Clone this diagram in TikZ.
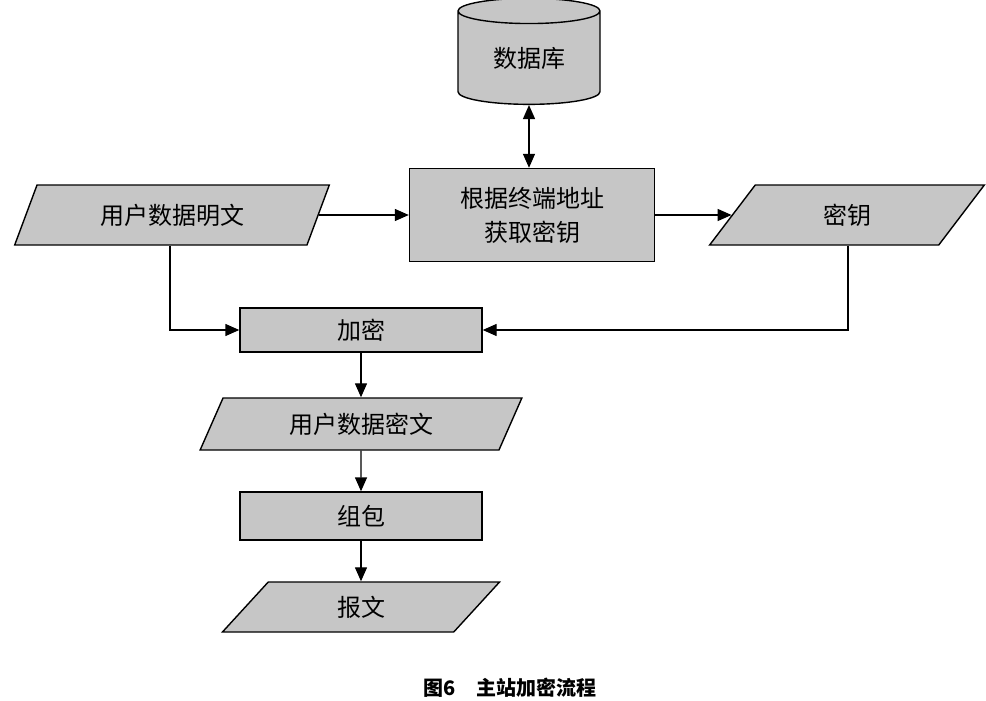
\documentclass[tikz,border=0pt]{standalone}
\usepackage{fontspec}
\setmainfont{Noto Sans CJK SC}
\usetikzlibrary{shapes.geometric,arrows.meta}

\tikzset{every picture/.style={line width=1.4pt}}
\tikzset{
  box/.style={draw, fill=gray!45, minimum height=#1, inner sep=0pt, align=center},
  data/.style={draw, fill=gray!45, trapezium, trapezium left angle=62, trapezium right angle=118,
    trapezium stretches=true, minimum height=60pt, inner sep=0pt},
  flow/.style={-{Triangle[length=14pt,width=12pt]}},
  txt/.style={font=\fontsize{24}{34}\selectfont}
}

\begin{document}
\begin{tikzpicture}[x=1pt,y=1pt,yscale=-1]
\useasboundingbox (0,0) rectangle (986,701);

% shapes
\node (db) [draw, fill=gray!45, cylinder, shape border rotate=90, aspect=0.35,
  minimum width=142pt, minimum height=106pt, inner sep=0pt, txt] at (529,58) {数据库};
\node (key) [box=93pt, minimum width=245pt, txt] at (532,215) {根据终端地址\\获取密钥};
\node (plain) [data, minimum width=315pt, txt] at (172,215) {用户数据明文};
\node (secret) [data, minimum width=275pt, txt] at (847,215) {密钥};
\node (enc) [box=44pt, minimum width=242pt, txt] at (361,330) {加密};
\node (cipher) [data, minimum height=52pt, minimum width=322pt, txt] at (361,424) {用户数据密文};
\node (pack) [box=48pt, minimum width=242pt, txt] at (361,516) {组包};
\node (msg) [data, minimum height=50pt, minimum width=278pt, txt] at (361,607) {报文};

% caption
\node (cap) [font=\fontsize{20}{24}\selectfont\bfseries] at (510,688) {图6\quad 主站加密流程};

% connectors
\draw [{Triangle[length=14pt,width=12pt]}-{Triangle[length=14pt,width=12pt]}] (db.bottom) -- (key.north -| db.bottom);
\draw [flow] (plain.east) -- (plain.east -| key.west);
\draw [flow] (key.east) -- (key.east -| secret.west);
\draw [flow] (plain.south -| 170,0) |- (enc.west);
\draw [flow] (secret.south -| 848,0) |- (enc.east);
\draw [flow] (enc) -- (cipher);
\draw [flow] (cipher) -- (pack);
\draw [flow] (pack) -- (msg);

\end{tikzpicture}
\end{document}
